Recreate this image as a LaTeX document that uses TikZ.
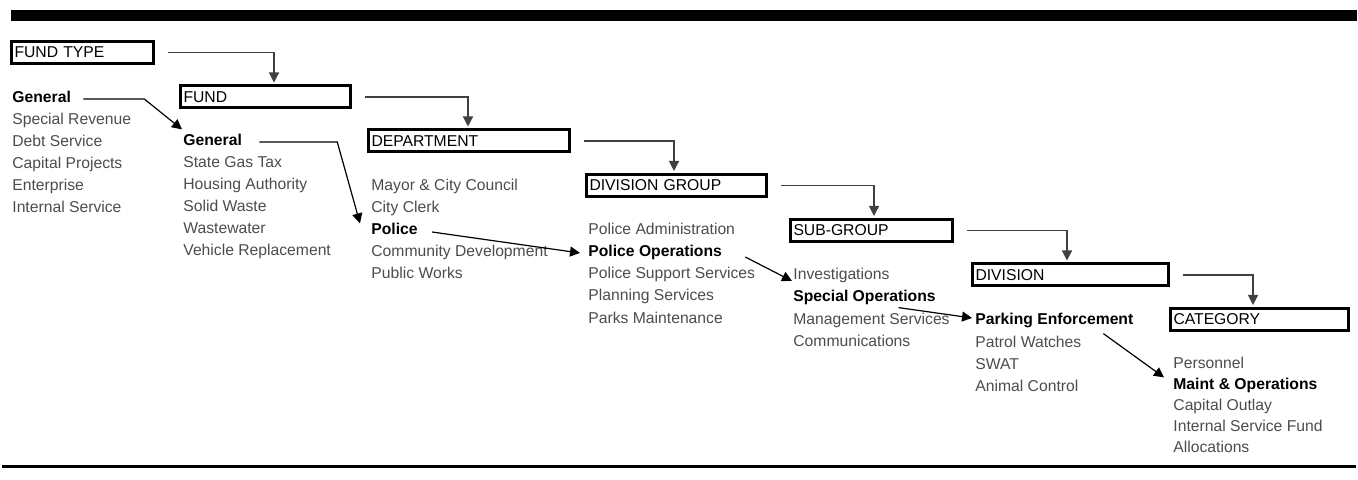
\documentclass[tikz,border=0pt]{standalone}
\usepackage{fontspec}
\setmainfont{Liberation Sans}
\usetikzlibrary{arrows.meta}
\def\rowsep{22}

\begin{document}
\begin{tikzpicture}[x=0.5pt, y=-0.5pt, >={Triangle[length=5pt,width=5pt]}]
  \tikzstyle{box}=[draw, line width=1.5pt, anchor=west, minimum height=11pt, inner xsep=1.5pt, inner ysep=0pt, align=left, font=\fontsize{7.85}{9}\selectfont]
  \tikzstyle{item}=[anchor=west, inner sep=2.5pt, text height=5.6pt, text depth=1.6pt, font=\fontsize{7.85}{9}\selectfont, text=black!70]
  \tikzstyle{key}=[item, font=\fontsize{7.85}{9}\selectfont\bfseries, text=black]
  \tikzstyle{link}=[->, line width=0.6pt, black!75, shorten >=1pt]
  \tikzstyle{pick}=[->, line width=0.6pt]

  \useasboundingbox (0,0) rectangle (1358,480);
  \fill (11,10) rectangle (1357,21);
  \draw[line width=1.5pt] (2,466) -- (1356,466);

  % level boxes
  \node[box, text width=68pt] (FT) at (10,52.5) {FUND TYPE};
  \node[box, text width=82pt] (F) at (179,97) {FUND};
  \node[box, text width=97.5pt] (D) at (367,141) {DEPARTMENT};
  \node[box, text width=87pt] (DG) at (585,185.5) {DIVISION GROUP};
  \node[box, text width=78pt] (SG) at (789,230.5) {SUB-GROUP};
  \node[box, text width=95pt] (DV) at (971,275) {DIVISION};
  \node[box, text width=86pt] (C) at (1169,319.5) {CATEGORY};

  \foreach \a/\b/\off in {FT/F/95, F/D/101, D/DG/89, DG/SG/85, SG/DV/96, DV/C/84}
    \draw[link] ([xshift=6.5pt]\a.east) -| ([xshift=\off*0.5pt]\b.north west);

  % lists
  \foreach \i/\txt/\st in {1/General/key,2/Special Revenue/item,3/Debt Service/item,4/Capital Projects/item,5/Enterprise/item,6/Internal Service/item}
    \node[\st] (FT-\i) at (7,99+\rowsep*\i-\rowsep) {\txt};

  \foreach \i/\txt/\st in {1/General/key,2/State Gas Tax/item,3/Housing Authority/item,4/Solid Waste/item,5/Wastewater/item,6/Vehicle Replacement/item}
    \node[\st] (F-\i) at (178,142+\rowsep*\i-\rowsep) {\txt};

  \foreach \i/\txt/\st in {1/Mayor \& City Council/item,2/City Clerk/item,3/Police/key,4/Community Development/item,5/Public Works/item}
    \node[\st] (D-\i) at (366,187+\rowsep*\i-\rowsep) {\txt};

  \foreach \i/\txt/\st in {1/Police Administration/item,2/Police Operations/key,3/Police Support Services/item,4/Planning Services/item,5/Parks Maintenance/item}
    \node[\st] (DG-\i) at (583,231+\rowsep*\i-\rowsep) {\txt};

  \foreach \i/\txt/\st in {1/Investigations/item,2/Special Operations/key,3/Management Services/item,4/Communications/item}
    \node[\st] (SG-\i) at (788,276+\rowsep*\i-\rowsep) {\txt};

  \foreach \i/\txt/\st in {1/Parking Enforcement/key,2/Patrol Watches/item,3/SWAT/item,4/Animal Control/item}
    \node[\st] (DV-\i) at (970,321+\rowsep*\i-\rowsep) {\txt};

  \foreach \i/\txt/\st in {1/Personnel/item,2/Maint \& Operations/key,3/Capital Outlay/item,4/Internal Service Fund/item,5/Allocations/item}
    \node[\st] (C-\i) at (1168,364+21*\i-21) {\txt};

  % picked path
  \draw[pick] ([shift={(7,0)}]FT-1.east) -- ++(61,0) -- ([shift={(4,0)}]F-1.north west);
  \draw[pick] ([shift={(12,0)}]F-1.east) -- ++(78,0) -- ([shift={(-6,5)}]D-3.north west);
  \draw[pick] ([shift={(9,1)}]D-3.east) -- ([shift={(-3,0)}]DG-2.west);
  \draw[pick] ([shift={(18,4)}]DG-2.east) -- ([shift={(4,5)}]SG-1.west);
  \draw[pick] ([shift={(34,-3)}]SG-2.south) -- ([shift={(2,-3)}]DV-1.west);
  \draw[pick] ([shift={(49,0)}]DV-1.south) -- ([shift={(-4,5)}]C-2.north west);
\end{tikzpicture}
\end{document}
